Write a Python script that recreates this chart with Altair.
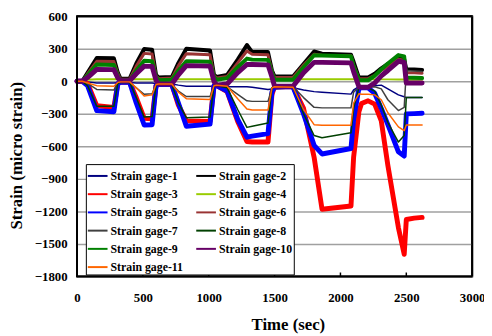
import altair as alt
import pandas as pd

# time grid (sec)
T = [0, 40, 80, 150, 280, 310, 330, 400, 450, 510, 570, 600, 620, 720, 770, 830,
     1010, 1040, 1060, 1140, 1220, 1290, 1330, 1450, 1480, 1500, 1640, 1720, 1800,
     1860, 2080, 2100, 2140, 2160, 2210, 2260, 2310, 2360, 2440, 2484, 2500, 2560, 2620]

gage1 = [0, 0, -5, -15, -15, -10, -10, -10, -15, -15, -15, -20, -25, -25, -35, -45,
         -45, -45, -45, -50, -50, -50, -55, -75, -70, -70, -60, -80, -95,
         -100, -118, -80, -50, -45, -45, -40, -35, -70, -125, -142, -150, -150, -150]
gage2 = [0, 0, 80, 215, 212, 80, 25, 25, 165, 298, 292, 60, 35, 40, 170, 300,
         285, 60, 40, 60, 200, 335, 270, 270, 100, 45, 45, 160, 275,
         255, 245, 180, 35, 35, 35, 70, 120, 160, 215, 205, 110, 110, 105]
gage3 = [0, 0, -20, -225, -240, -20, -10, -10, -150, -340, -345, -40, -30, -30, -220, -365,
         -370, -40, -40, -95, -370, -555, -560, -560, -120, -50, -50, -250, -700,
         -1180, -1150, -700, -280, -205, -180, -210, -365, -775, -1350, -1595, -1275, -1262, -1255]
gage4 = [0, 5, 15, 20, 20, 20, 20, 20, 20, 20, 20, 20, 20, 20, 20, 20,
         20, 20, 20, 20, 20, 20, 20, 20, 20, 20, 20, 20, 20,
         20, 20, 20, 18, 18, 18, 18, 18, 18, 17, 16, 15, 15, 15]
gage5 = [0, 0, -40, -270, -280, -20, -10, -10, -200, -403, -400, -40, -30, -30, -200, -415,
         -395, -40, -40, -90, -350, -515, -505, -482, -100, -50, -50, -300, -590,
         -670, -620, -350, -65, -60, -60, -110, -250, -400, -650, -690, -300, -298, -295]
gage6 = [0, 0, 70, 185, 182, 70, 20, 20, 140, 258, 252, 50, 25, 30, 145, 255,
         245, 55, 30, 45, 170, 280, 250, 245, 90, 35, 35, 150, 250,
         240, 235, 150, 25, 25, 25, 55, 100, 140, 205, 195, 80, 78, 75]
gage7 = [0, 0, -20, -75, -80, -20, -10, -10, -60, -120, -115, -30, -30, -30, -90, -140,
         -140, -40, -40, -50, -120, -180, -185, -185, -60, -50, -50, -150, -240,
         -245, -245, -100, -55, -55, -55, -50, -70, -170, -270, -240, 100, 95, 90]
gage8 = [0, 0, -40, -230, -230, -20, -10, -10, -150, -330, -325, -40, -30, -30, -200, -335,
         -330, -40, -40, -60, -260, -425, -415, -385, -60, -50, -50, -300, -500,
         -520, -475, -250, -60, -60, -60, -90, -220, -380, -560, -500, -150, -150, -150]
gage9 = [0, 0, 55, 155, 150, 50, 10, 10, 100, 190, 185, 40, 10, 15, 100, 185,
         180, 40, 15, 30, 130, 210, 200, 198, 80, 15, 15, 130, 240,
         238, 232, 140, 10, 10, 10, 50, 110, 165, 242, 230, 35, 33, 30]
gage10 = [0, 0, 35, 110, 108, 30, 5, 5, 70, 140, 138, 10, -25, -25, 60, 145,
          140, 0, -35, -25, 80, 155, 155, 152, 40, -45, -45, 80, 175,
          175, 170, 90, -50, -55, -55, -15, 50, 100, 185, 175, -15, -15, -15]
gage11 = [0, 0, -15, -40, -45, -10, -5, -5, -60, -136, -125, -30, -25, -25, -100, -160,
          -167, -40, -35, -45, -160, -255, -265, -265, -60, -50, -55, -260, -400,
          -405, -405, -200, -115, -120, -120, -125, -170, -290, -420, -455, -403, -403, -403]

series = [gage1, gage2, gage3, gage4, gage5, gage6, gage7, gage8, gage9, gage10, gage11]
names = [f"Strain gage-{i}" for i in range(1, 12)]
colors = ["#000080", "#000000", "#FF0000", "#99CC00", "#0000FF", "#993333",
          "#404040", "#004000", "#008000", "#660066", "#FF6600"]
widths = [1.5, 4, 5, 2, 5, 3, 1.5, 1.5, 4, 5, 1.5]

x_ticks = [0, 500, 1000, 1500, 2000, 2500, 3000]
y_ticks = [-1800, -1500, -1200, -900, -600, -300, 0, 300, 600]
x_range = [0, 3000]
y_range = [-1800, 600]

rows = []
for name, vals in zip(names, series):
    for t, v in zip(T, vals):
        rows.append({"series": name, "t": t, "v": v})
df = pd.DataFrame(rows)

FONT = "Liberation Serif"
W, H = 401, 264

x_scale = alt.Scale(domain=x_range, nice=False)
y_scale = alt.Scale(domain=y_range, nice=False)

x_axis = alt.Axis(values=x_ticks, title="Time (sec)", format="d",
                  ticks=False, domain=False, grid=False, labelPadding=15, labelFlush=False,
                  titleX=214, titleY=49, titleBaseline="middle", titleFontSize=17)
y_axis = alt.Axis(values=y_ticks, title="Strain (micro strain)", format="d",
                  ticks=False, domain=False, grid=True, gridColor="#A0A0A0",
                  gridWidth=1.5, labelPadding=10,
                  titleX=-61, titleY=141, titleBaseline="middle", titleFontSize=17)

color_enc = alt.Color("series:N", scale=alt.Scale(domain=names, range=colors),
                      legend=alt.Legend(title=None, orient="none", legendX=9, legendY=150,
                                        columns=2, direction="horizontal",
                                        symbolType="stroke", symbolSize=400,
                                        symbolStrokeWidth=2, labelFont=FONT,
                                        labelFontWeight="bold", labelFontSize=12,
                                        labelColor="black", fillColor="white",
                                        strokeColor="black", padding=1, rowPadding=1.5,
                                        columnPadding=9, labelOffset=2))

layers = []
for i, (name, w) in enumerate(zip(names, widths)):
    if i == 0:
        xe = alt.X("t:Q", scale=x_scale, axis=x_axis)
        ye = alt.Y("v:Q", scale=y_scale, axis=y_axis)
    else:
        xe = alt.X("t:Q", scale=x_scale, axis=None)
        ye = alt.Y("v:Q", scale=y_scale, axis=None)
    layers.append(
        alt.Chart(df).transform_filter(alt.datum.series == name)
        .mark_line(strokeWidth=w, strokeJoin="round", strokeCap="round")
        .encode(x=xe, y=ye, color=color_enc)
    )

# plot frame: horizontal edges at the y range ends, vertical edges at the x range ends
h_edges = pd.DataFrame({"v": y_range, "t0": [x_range[0]] * 2, "t1": [x_range[1]] * 2})
v_edges = pd.DataFrame({"t": x_range, "v0": [y_range[0]] * 2, "v1": [y_range[1]] * 2})
frame_h = alt.Chart(h_edges).mark_rule(color="black", strokeWidth=2).encode(
    y=alt.Y("v:Q", scale=y_scale, axis=None),
    x=alt.X("t0:Q", scale=x_scale, axis=None), x2="t1:Q")
frame_v = alt.Chart(v_edges).mark_rule(color="black", strokeWidth=2).encode(
    x=alt.X("t:Q", scale=x_scale, axis=None),
    y=alt.Y("v0:Q", scale=y_scale, axis=None), y2="v1:Q")
layers += [frame_h, frame_v]

# inward tick marks on the time axis
ticks = alt.Chart(pd.DataFrame({"t": x_ticks[1:-1]})).mark_rule(
    color="black", strokeWidth=1.5).encode(
    x=alt.X("t:Q", scale=x_scale, axis=None), y=alt.value(H - 4), y2=alt.value(H))
layers.append(ticks)

chart = alt.layer(*layers).resolve_axis(x="independent", y="independent").properties(
    width=W, height=H,
    background="white",
    autosize=alt.AutoSizeParams(type="none"),
    padding={"left": 70, "top": 6, "right": 12, "bottom": 57},
).configure_view(stroke="black", strokeWidth=2).configure_axis(
    labelFont=FONT, labelFontWeight="bold", labelFontSize=13, labelColor="black",
    titleFont=FONT, titleFontWeight="bold", titleColor="black",
)

chart.save("out.html", embed_options={"renderer": "svg", "actions": False})
